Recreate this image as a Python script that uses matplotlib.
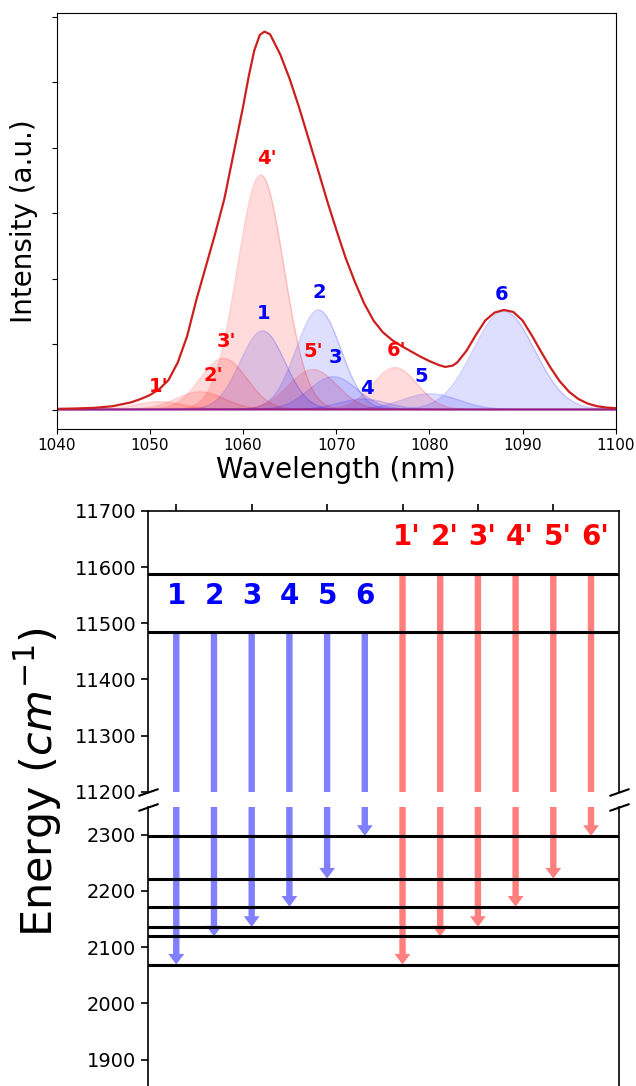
import numpy as np
import matplotlib
matplotlib.use('Agg')
import matplotlib.pyplot as plt

# ---------------- top panel data ----------------
env_wl = [1040, 1042, 1044, 1046, 1048, 1049, 1050, 1051, 1052, 1053, 1054, 1055,
          1056, 1057, 1058, 1059, 1060, 1060.6, 1061.2, 1061.8, 1062.3, 1062.9, 1064,
          1065, 1066, 1067, 1068, 1069, 1070, 1071, 1072, 1073, 1074, 1075, 1076,
          1077, 1078, 1079, 1080, 1081, 1081.7, 1082.5, 1083, 1084, 1085, 1086,
          1087, 1088, 1089, 1090, 1091, 1092, 1093, 1094, 1095, 1096, 1097, 1098,
          1099, 1100]
env_int = [0.01, 0.015, 0.025, 0.05, 0.11, 0.16, 0.22, 0.31, 0.45, 0.72, 1.12, 1.68,
           2.18, 2.68, 3.22, 3.92, 4.62, 5.08, 5.48, 5.72, 5.77, 5.73, 5.42,
           5.05, 4.62, 4.15, 3.68, 3.20, 2.75, 2.32, 1.95, 1.62, 1.36, 1.18, 1.06,
           0.97, 0.89, 0.81, 0.74, 0.68, 0.65, 0.67, 0.72, 0.90, 1.14, 1.36,
           1.48, 1.52, 1.49, 1.36, 1.13, 0.88, 0.64, 0.43, 0.27, 0.16, 0.09, 0.05,
           0.03, 0.02]

blue_names = ['1', '2', '3', '4', '5', '6']
blue_center = [1062.1, 1068.1, 1069.7, 1072.9, 1080.1, 1088.0]
blue_height = [1.20, 1.52, 0.50, 0.16, 0.24, 1.50]
blue_sigma = [2.4, 2.4, 2.6, 2.6, 3.0, 3.3]
blue_lab_x = [1062.2, 1068.2, 1069.9, 1073.3, 1079.1, 1087.7]
blue_lab_y = [1.46, 1.78, 0.79, 0.32, 0.50, 1.76]

red_names = ["1'", "2'", "3'", "4'", "5'", "6'"]
red_center = [1051.0, 1055.4, 1057.9, 1061.9, 1067.5, 1076.3]
red_height = [0.12, 0.27, 0.78, 3.58, 0.61, 0.64]
red_sigma = [2.5, 2.6, 2.5, 2.5, 2.6, 2.4]
red_lab_x = [1050.9, 1056.8, 1058.2, 1062.6, 1067.5, 1076.5]
red_lab_y = [0.35, 0.52, 1.04, 3.84, 0.88, 0.90]

wl_ticks = [1040, 1050, 1060, 1070, 1080, 1090, 1100]

# ---------------- bottom panel data ----------------
upper_levels = [11588, 11485]       # red start, blue start
lower_levels = [2069, 2119, 2136, 2172, 2222, 2298]
upper_ticks = [11200, 11300, 11400, 11500, 11600, 11700]
lower_ticks = [1900, 2000, 2100, 2200, 2300]

W, H = 636, 1086
fig = plt.figure(figsize=(W / 100, H / 100), dpi=100)


def fbox(l, t, r, b):
    return [l / W, 1 - b / H, (r - l) / W, (b - t) / H]


# ================= top panel =================
ax = fig.add_axes(fbox(56.7, 13.3, 615.7, 428.5))
x = np.linspace(1040, 1100, 1201)
for c, h, s in zip(red_center, red_height, red_sigma):
    g = h * np.exp(-(x - c) ** 2 / (2 * s ** 2))
    ax.fill_between(x, g, color='red', alpha=0.14, lw=0)
    ax.plot(x, g, color='red', alpha=0.18, lw=1)
for c, h, s in zip(blue_center, blue_height, blue_sigma):
    g = h * np.exp(-(x - c) ** 2 / (2 * s ** 2))
    ax.fill_between(x, g, color='blue', alpha=0.13, lw=0)
    ax.plot(x, g, color='blue', alpha=0.18, lw=1)
ax.plot(x, np.zeros_like(x), color='#a0207a', lw=1.5, alpha=0.8)
ax.plot(env_wl, env_int, color='#cc1f1f', lw=1.6)

for n, lx, ly in zip(blue_names, blue_lab_x, blue_lab_y):
    ax.text(lx, ly, n, color='blue', fontsize=14, fontweight='bold', ha='center', va='center')
for n, lx, ly in zip(red_names, red_lab_x, red_lab_y):
    ax.text(lx, ly, n, color='red', fontsize=14, fontweight='bold', ha='center', va='center')

ax.set_xlim(1040, 1100)
ax.set_ylim(-0.29, 6.05)
ax.set_xticks(wl_ticks)
ax.set_yticks(range(0, 7))
ax.set_yticklabels([])
ax.tick_params(axis='x', labelsize=11)
ax.set_xlabel('Wavelength (nm)', fontsize=20, labelpad=2)
ax.set_ylabel('Intensity (a.u.)', fontsize=20)
ax.yaxis.set_label_coords(-0.034, 0.5)

# ================= bottom panel (broken axis) =================
ax1 = fig.add_axes(fbox(148, 511, 619.3, 791.7))
ax2 = fig.add_axes(fbox(148, 806.7, 619.3, 1087.6))

for a in (ax1, ax2):
    for i in range(6):
        a.arrow(i, upper_levels[1], 0, lower_levels[i] - upper_levels[1], width=0.17,
                head_width=0.42, head_length=19, length_includes_head=True,
                fc='blue', ec='none', alpha=0.5, zorder=2)
        a.arrow(6 + i, upper_levels[0], 0, lower_levels[i] - upper_levels[0], width=0.17,
                head_width=0.42, head_length=19, length_includes_head=True,
                fc='red', ec='none', alpha=0.5, zorder=2)
    for lv in upper_levels + lower_levels:
        a.axhline(lv, color='black', lw=2.2, zorder=3)
    a.set_xlim(-0.75, 11.75)
    for sp in a.spines.values():
        sp.set_linewidth(1.2)
    a.tick_params(labelsize=14, length=5, width=1.2)

ax1.set_ylim(11200, 11700)
ax1.set_yticks(upper_ticks)
ax2.set_ylim(1850, 2350)
ax2.set_yticks(lower_ticks)
ax1.spines['bottom'].set_visible(False)
ax2.spines['top'].set_visible(False)
ax1.xaxis.tick_top()
ax1.set_xticks([0, 2, 4, 6, 8, 10])
ax1.tick_params(axis='x', labeltop=False)
ax2.set_xticks([])

for i in range(6):
    ax1.text(i, 11549, blue_names[i], color='blue', fontsize=20, fontweight='bold',
             ha='center', va='center')
    ax1.text(6 + i + 0.11, 11653, red_names[i], color='red', fontsize=20, fontweight='bold',
             ha='center', va='center')

d = 0.35
kw = dict(marker=[(-1, -d), (1, d)], markersize=14.5, linestyle='none', color='k',
          mec='k', mew=1.5, clip_on=False)
ax1.plot([0, 1], [0, 0], transform=ax1.transAxes, **kw)
ax2.plot([0, 1], [1, 1], transform=ax2.transAxes, **kw)

fig.text(38.5 / W, 1 - 782 / H, 'Energy ($cm^{-1}$)', rotation=90, fontsize=31,
         ha='center', va='center')

fig.savefig('out.png', dpi=100)
